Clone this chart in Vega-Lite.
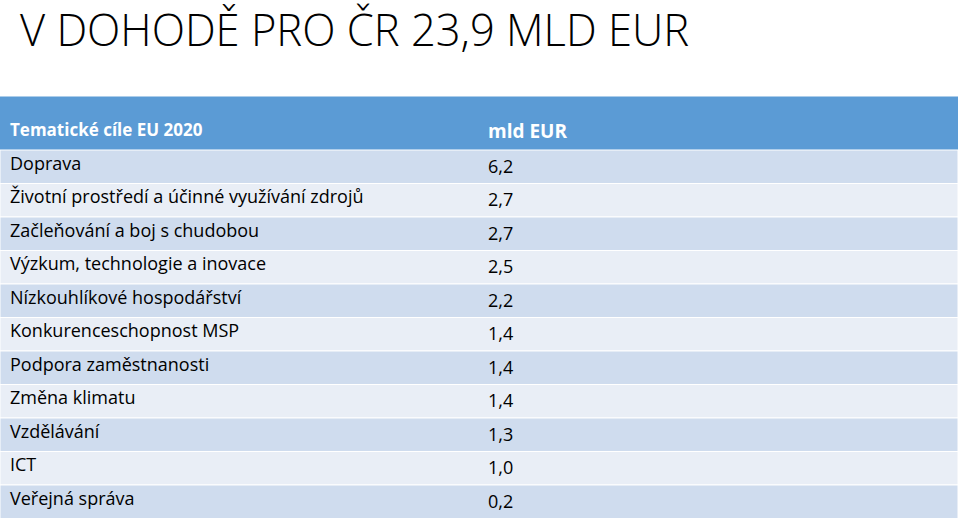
{
  "$schema": "https://vega.github.io/schema/vega-lite/v6.json",
  "width": 960,
  "height": 522,
  "padding": 0,
  "autosize": {"type": "none"},
  "background": "white",
  "config": {
    "view": {"stroke": null},
    "locale": {"number": {"decimal": ",", "thousands": " ", "grouping": [3], "currency": ["", " €"]}}
  },
  "data": {
    "values": [
      {"rank": 1, "name": "Doprava", "value": 6.2},
      {"rank": 2, "name": "Životní prostředí a účinné využívání zdrojů", "value": 2.7},
      {"rank": 3, "name": "Začleňování a boj s chudobou", "value": 2.7},
      {"rank": 4, "name": "Výzkum, technologie a inovace", "value": 2.5},
      {"rank": 5, "name": "Nízkouhlíkové hospodářství", "value": 2.2},
      {"rank": 6, "name": "Konkurenceschopnost MSP", "value": 1.4},
      {"rank": 7, "name": "Podpora zaměstnanosti", "value": 1.4},
      {"rank": 8, "name": "Změna klimatu", "value": 1.4},
      {"rank": 9, "name": "Vzdělávání", "value": 1.3},
      {"rank": 10, "name": "ICT", "value": 1.0},
      {"rank": 11, "name": "Veřejná správa", "value": 0.2}
    ]
  },
  "transform": [
    {"calculate": "datum.rank - 1", "as": "top"},
    {"calculate": "datum.rank - 0.5", "as": "mid"}
  ],
  "encoding": {
    "y": {"type": "quantitative", "axis": null,
      "scale": {"domain": [-4.4776, 11.1045], "range": [0, 522], "nice": false, "zero": false}},
    "x": {"type": "nominal", "axis": null,
      "scale": {"type": "point", "domain": ["name", "value"], "range": [10, 488], "padding": 0}}
  },
  "layer": [
    {
      "mark": {"type": "text", "align": "left", "baseline": "alphabetic", "font": "Open Sans", "fontWeight": 300, "fontSize": 43.5, "color": "#000000", "dx": 10},
      "data": {"values": [{"t": "V DOHODĚ PRO ČR 23,9 MLD EUR"}]},
      "transform": [],
      "encoding": {
        "x": {"datum": "name", "type": "nominal"},
        "y": {"datum": -3.104, "type": "quantitative"},
        "text": {"field": "t"}
      }
    },
    {
      "mark": {"type": "rect", "color": "#5b9bd5"},
      "data": {"values": [{"h": 1}]},
      "transform": [],
      "encoding": {
        "x": {"value": 0},
        "x2": {"value": 958},
        "y": {"datum": -1.597, "type": "quantitative"},
        "y2": {"datum": 0}
      }
    },
    {
      "mark": {"type": "rect", "stroke": "white", "strokeWidth": 1},
      "encoding": {
        "x": {"value": 0},
        "x2": {"value": 958},
        "y": {"field": "top", "type": "quantitative"},
        "y2": {"field": "rank"},
        "color": {"condition": {"test": "datum.rank % 2 == 1", "value": "#cfdcee"}, "value": "#e9eef6"}
      }
    },
    {
      "mark": {"type": "text", "align": "left", "baseline": "middle", "font": "Open Sans", "fontWeight": "bold", "fontSize": 17, "color": "white"},
      "data": {"values": [{"t": "Tematické cíle EU 2020"}]},
      "transform": [],
      "encoding": {
        "x": {"datum": "name", "type": "nominal"},
        "y": {"datum": -0.567, "type": "quantitative"},
        "text": {"field": "t"}
      }
    },
    {
      "mark": {"type": "text", "align": "left", "baseline": "middle", "font": "Open Sans", "fontWeight": "bold", "fontSize": 19, "color": "white"},
      "data": {"values": [{"t": "mld EUR"}]},
      "transform": [],
      "encoding": {
        "x": {"datum": "value", "type": "nominal"},
        "y": {"datum": -0.537, "type": "quantitative"},
        "text": {"field": "t"}
      }
    },
    {
      "mark": {"type": "text", "align": "left", "baseline": "middle", "font": "Open Sans", "fontSize": 18, "color": "#000000", "dy": -2},
      "encoding": {
        "x": {"datum": "name", "type": "nominal"},
        "y": {"field": "mid", "type": "quantitative"},
        "text": {"field": "name"}
      }
    },
    {
      "mark": {"type": "text", "align": "left", "baseline": "middle", "font": "Open Sans", "fontSize": 18, "color": "#000000", "dy": 1},
      "encoding": {
        "x": {"datum": "value", "type": "nominal"},
        "y": {"field": "mid", "type": "quantitative"},
        "text": {"field": "value", "type": "quantitative", "format": ".1f"}
      }
    }
  ]
}
